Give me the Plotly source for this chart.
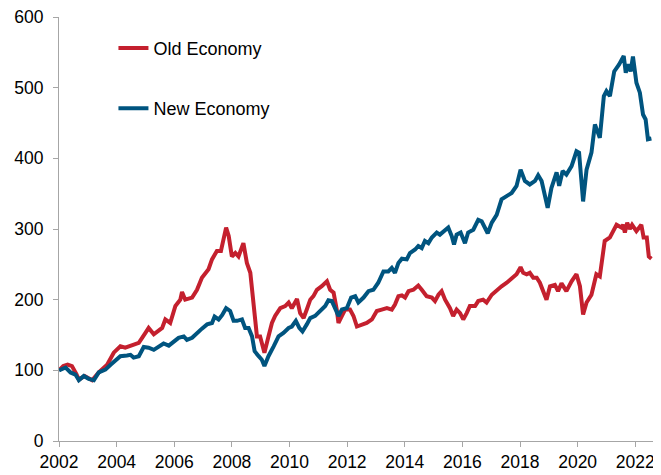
import plotly.graph_objects as go

old_years = [2002.00, 2002.15, 2002.30, 2002.45, 2002.60, 2002.69, 2002.89, 2003.15, 2003.38, 2003.67,
             2003.90, 2004.13, 2004.30, 2004.54, 2004.77, 2005.00, 2005.11, 2005.29, 2005.58, 2005.69,
             2005.86, 2006.04, 2006.21, 2006.27, 2006.38, 2006.62, 2006.79, 2006.96, 2007.19, 2007.31,
             2007.48, 2007.62, 2007.80, 2007.89, 2008.00, 2008.12, 2008.23, 2008.40, 2008.52, 2008.64,
             2008.75, 2008.87, 2008.98, 2009.13, 2009.27, 2009.39, 2009.50, 2009.68, 2009.85, 2009.97,
             2010.08, 2010.26, 2010.37, 2010.49, 2010.60, 2010.72, 2010.83, 2010.95, 2011.12, 2011.30,
             2011.41, 2011.53, 2011.64, 2011.70, 2011.82, 2011.93, 2012.10, 2012.22, 2012.34, 2012.51,
             2012.68, 2012.86, 2013.03, 2013.20, 2013.38, 2013.55, 2013.66, 2013.78, 2013.90, 2014.01,
             2014.13, 2014.30, 2014.47, 2014.59, 2014.76, 2014.94, 2015.05, 2015.17, 2015.28, 2015.40,
             2015.57, 2015.68, 2015.80, 2015.92, 2016.03, 2016.15, 2016.26, 2016.44, 2016.55, 2016.72,
             2016.84, 2017.02, 2017.19, 2017.36, 2017.54, 2017.71, 2017.88, 2018.02, 2018.11, 2018.23,
             2018.34, 2018.46, 2018.58, 2018.69, 2018.80, 2018.92, 2019.04, 2019.21, 2019.32, 2019.44,
             2019.61, 2019.79, 2019.96, 2020.08, 2020.19, 2020.31, 2020.48, 2020.65, 2020.77, 2020.94,
             2021.12, 2021.35, 2021.52, 2021.58, 2021.64, 2021.72, 2021.81, 2021.89, 2022.04, 2022.21,
             2022.29, 2022.40, 2022.47, 2022.56]
old_values = [100, 106, 108, 106, 95, 87, 92, 86, 97, 108,
              125, 134, 132, 135, 139, 153, 160, 151, 160, 172,
              167, 191, 200, 211, 200, 203, 214, 231, 243, 257,
              269, 269, 302, 290, 261, 266, 261, 280, 252, 238,
              196, 148, 148, 125, 148, 167, 177, 188, 191, 196,
              188, 201, 181, 174, 186, 200, 205, 214, 219, 226,
              214, 210, 186, 167, 177, 186, 186, 177, 162, 165,
              167, 172, 184, 186, 188, 186, 193, 205, 206, 203,
              212, 214, 220, 214, 205, 203, 198, 207, 212, 200,
              188, 177, 186, 181, 172, 181, 191, 191, 198, 200,
              196, 207, 214, 219, 224, 231, 236, 246, 238, 236,
              238, 231, 231, 224, 212, 200, 219, 221, 212, 223,
              212, 226, 236, 219, 179, 196, 207, 236, 233, 283,
              288, 306, 302, 306, 295, 309, 300, 306, 297, 306,
              288, 288, 261, 258]

new_years = [2002.00, 2002.23, 2002.40, 2002.57, 2002.69, 2002.86, 2003.03, 2003.21, 2003.38, 2003.61,
             2003.79, 2003.96, 2004.13, 2004.36, 2004.48, 2004.59, 2004.77, 2004.94, 2005.11, 2005.29,
             2005.46, 2005.63, 2005.81, 2005.98, 2006.15, 2006.33, 2006.44, 2006.62, 2006.79, 2006.96,
             2007.14, 2007.31, 2007.40, 2007.54, 2007.66, 2007.80, 2007.94, 2008.06, 2008.18, 2008.35,
             2008.46, 2008.58, 2008.70, 2008.79, 2008.93, 2009.04, 2009.13, 2009.27, 2009.45, 2009.62,
             2009.79, 2009.97, 2010.08, 2010.22, 2010.34, 2010.45, 2010.60, 2010.72, 2010.89, 2011.06,
             2011.24, 2011.35, 2011.47, 2011.58, 2011.70, 2011.82, 2011.99, 2012.14, 2012.28, 2012.39,
             2012.57, 2012.74, 2012.91, 2013.08, 2013.26, 2013.43, 2013.55, 2013.66, 2013.78, 2013.90,
             2014.07, 2014.18, 2014.36, 2014.47, 2014.59, 2014.70, 2014.82, 2014.94, 2015.11, 2015.22,
             2015.36, 2015.51, 2015.63, 2015.71, 2015.80, 2015.94, 2016.09, 2016.20, 2016.38, 2016.55,
             2016.67, 2016.78, 2016.88, 2017.02, 2017.19, 2017.36, 2017.54, 2017.71, 2017.88, 2018.02,
             2018.17, 2018.34, 2018.52, 2018.63, 2018.75, 2018.84, 2018.96, 2019.09, 2019.27, 2019.36,
             2019.48, 2019.61, 2019.79, 2019.96, 2020.05, 2020.19, 2020.31, 2020.48, 2020.60, 2020.77,
             2020.91, 2021.00, 2021.12, 2021.27, 2021.44, 2021.60, 2021.67, 2021.75, 2021.84, 2021.92,
             2022.04, 2022.16, 2022.27, 2022.36, 2022.44, 2022.56]
new_values = [100, 104, 97, 94, 86, 92, 88, 86, 97, 101,
              108, 115, 120, 121, 122, 118, 120, 133, 132, 129,
              134, 138, 135, 141, 146, 148, 143, 146, 153, 159,
              165, 167, 176, 172, 178, 188, 184, 170, 170, 172,
              160, 160, 148, 127, 120, 115, 106, 120, 134, 148,
              153, 160, 162, 170, 160, 155, 165, 174, 177, 184,
              191, 199, 198, 188, 177, 186, 188, 203, 205, 196,
              203, 212, 214, 224, 240, 240, 245, 238, 252, 258,
              257, 266, 271, 276, 273, 283, 280, 288, 295, 292,
              297, 302, 290, 278, 292, 295, 280, 295, 299, 313,
              311, 302, 294, 309, 320, 342, 346, 351, 361, 384,
              368, 363, 368, 376, 368, 351, 330, 358, 380, 361,
              382, 377, 389, 410, 408, 339, 384, 408, 448, 429,
              488, 495, 488, 523, 533, 545, 521, 533, 523, 544,
              507, 493, 462, 455, 427, 428]

x_tick_vals = [2002, 2004, 2006, 2008, 2010, 2012, 2014, 2016, 2018, 2020, 2022]
y_tick_vals = [0, 100, 200, 300, 400, 500, 600]

RED = "#C4202E"
BLUE = "#00547F"
FONT = "Liberation Sans, Arial, sans-serif"

fig = go.Figure()
fig.add_trace(go.Scatter(x=old_years, y=old_values, mode="lines", name="Old Economy",
                         legendgroup="a", line=dict(color=RED, width=4)))
fig.add_trace(go.Scatter(x=new_years, y=new_values, mode="lines", name="New Economy",
                         legendgroup="b", line=dict(color=BLUE, width=4)))

axis_common = dict(showgrid=False, zeroline=False, showline=True, linecolor="#A6A6A6",
                   linewidth=1.2, ticks="outside", ticklen=5, tickcolor="#A6A6A6",
                   automargin=False, ticklabeloverflow="allow",
                   tickfont=dict(family=FONT, size=17.5, color="#000000"))

# The page adds an 8px body margin, so the figure is sized to fit inside the window.
fig.update_layout(
    width=653, height=467,
    margin=dict(l=50.5, r=5, t=9.3, b=33.5),
    paper_bgcolor="white", plot_bgcolor="white",
    font=dict(family=FONT, color="#000000"),
    xaxis=dict(range=[2002, 2022.72], tickvals=x_tick_vals,
               ticktext=[str(v) for v in x_tick_vals], **axis_common),
    yaxis=dict(range=[0, 600], tickvals=y_tick_vals, ticklabelstandoff=6, **axis_common),
    legend=dict(x=0.0912, y=0.970, xanchor="left", yanchor="top",
                font=dict(family=FONT, size=18, color="#000000"),
                bgcolor="rgba(0,0,0,0)", tracegroupgap=34, traceorder="grouped",
                itemwidth=30),
    showlegend=True,
)

fig.write_html("out.html")
